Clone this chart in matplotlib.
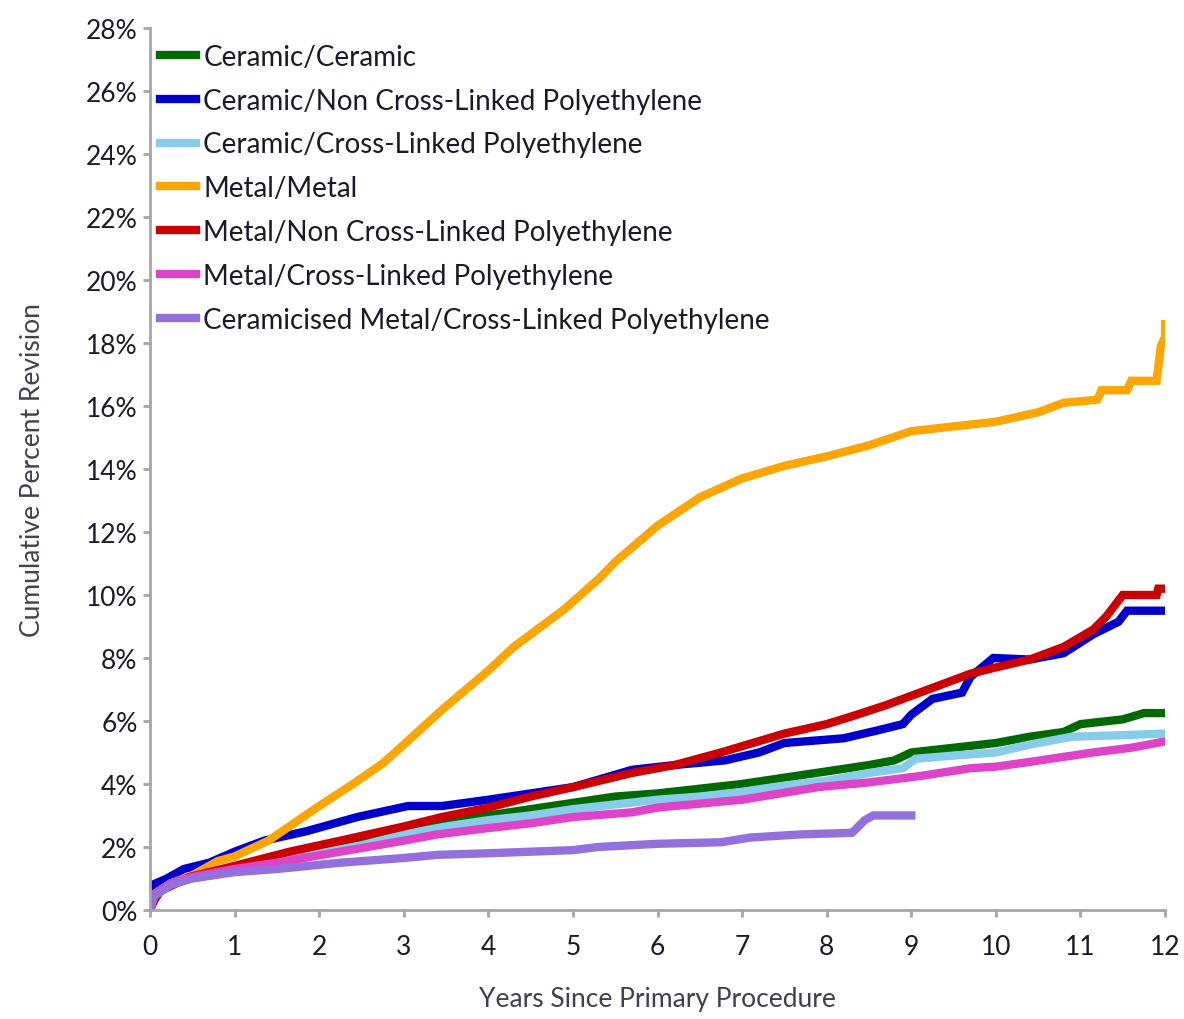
import matplotlib
matplotlib.use("Agg")
import matplotlib.pyplot as plt
from matplotlib.ticker import FuncFormatter, MultipleLocator

plt.rcParams['font.family'] = ['Lato', 'DejaVu Sans']

# Cumulative percent revision by bearing surface (years, percent)
cc_years = [0, 0.05, 0.25, 0.5, 1.0, 1.5, 2.0, 2.5, 3.0, 3.5, 4.0, 4.5, 5.0, 5.5, 6.0,
            6.5, 7.0, 7.5, 8.0, 8.5, 8.8, 9.0, 9.5, 10.0, 10.4, 10.8, 11.0, 11.5, 11.75, 12.0]
cc_pct = [0, 0.5, 0.85, 1.05, 1.35, 1.6, 1.9, 2.2, 2.5, 2.75, 3.0, 3.2, 3.4, 3.6, 3.7,
          3.85, 4.0, 4.2, 4.4, 4.6, 4.75, 5.0, 5.15, 5.3, 5.5, 5.65, 5.9, 6.05, 6.25, 6.25]

cnx_years = [0, 0.03, 0.2, 0.4, 0.7, 1.0, 1.35, 1.85, 2.45, 3.05, 3.45, 4.0, 4.5, 5.0, 5.7,
             6.2, 6.8, 7.2, 7.5, 8.2, 8.6, 8.9, 9.0, 9.25, 9.6, 9.7, 9.97, 10.4, 10.8,
             11.15, 11.45, 11.55, 12.0]
cnx_pct = [0, 0.8, 1.0, 1.3, 1.5, 1.85, 2.2, 2.5, 2.95, 3.3, 3.3, 3.5, 3.7, 3.9, 4.45,
           4.6, 4.75, 5.0, 5.3, 5.45, 5.7, 5.9, 6.2, 6.7, 6.9, 7.4, 8.0, 7.95, 8.15,
           8.75, 9.15, 9.5, 9.5]

cx_years = [0, 0.05, 0.25, 0.5, 1.0, 1.5, 2.0, 2.5, 3.0, 3.5, 4.0, 4.5, 5.0, 5.5, 6.0,
            6.5, 7.0, 7.5, 8.0, 8.5, 8.9, 9.05, 9.5, 10.0, 10.4, 10.9, 11.5, 12.0]
cx_pct = [0, 0.5, 0.85, 1.05, 1.3, 1.55, 1.8, 2.05, 2.4, 2.65, 2.85, 3.0, 3.2, 3.35, 3.5,
          3.6, 3.75, 3.95, 4.1, 4.35, 4.5, 4.8, 4.9, 5.0, 5.25, 5.5, 5.55, 5.6]

mm_years = [0, 0.05, 0.25, 0.5, 0.8, 1.0, 1.4, 2.0, 2.4, 2.75, 3.0, 3.45, 4.0, 4.3, 4.9,
            5.3, 5.5, 6.0, 6.5, 7.0, 7.5, 8.0, 8.5, 9.0, 9.5, 10.0, 10.5, 10.8, 11.2,
            11.25, 11.55, 11.6, 11.9, 11.95, 12.0, 12.0]
mm_pct = [0, 0.5, 0.85, 1.1, 1.55, 1.7, 2.2, 3.3, 4.0, 4.65, 5.25, 6.35, 7.6, 8.35, 9.55,
          10.5, 11.05, 12.2, 13.1, 13.7, 14.1, 14.4, 14.75, 15.2, 15.35, 15.5, 15.8, 16.1, 16.2,
          16.5, 16.5, 16.8, 16.8, 17.9, 18.2, 18.6]

mnx_years = [0, 0.05, 0.12, 0.47, 1.0, 1.65, 2.25, 3.0, 3.45, 4.0, 4.5, 5.0, 5.7, 6.2, 6.75,
             7.0, 7.5, 8.0, 8.3, 8.7, 9.1, 9.4, 9.7, 10.0, 10.4, 10.8, 11.15, 11.3, 11.5,
             11.9, 11.92, 12.0]
mnx_pct = [0, 0.3, 0.6, 1.05, 1.4, 1.85, 2.2, 2.65, 2.95, 3.25, 3.6, 3.9, 4.35, 4.6, 5.0,
           5.2, 5.6, 5.9, 6.15, 6.5, 6.9, 7.2, 7.5, 7.7, 7.95, 8.35, 8.9, 9.3, 10.0,
           10.0, 10.2, 10.2]

mx_years = [0, 0.05, 0.25, 0.5, 1.0, 1.5, 2.25, 3.0, 3.4, 4.0, 4.5, 5.0, 5.7, 6.0, 6.8,
            7.0, 7.9, 8.5, 9.1, 9.7, 10.0, 10.4, 11.15, 11.6, 12.0]
mx_pct = [0, 0.5, 0.85, 1.05, 1.3, 1.5, 1.85, 2.2, 2.4, 2.6, 2.75, 2.95, 3.1, 3.25, 3.45,
          3.5, 3.9, 4.05, 4.25, 4.5, 4.55, 4.7, 5.0, 5.15, 5.35]

cmx_years = [0, 0.05, 0.25, 0.5, 1.0, 1.5, 2.25, 3.0, 3.4, 4.0, 4.5, 5.0, 5.3, 6.0, 6.75,
             7.1, 7.7, 8.3, 8.45, 8.55, 9.0]
cmx_pct = [0, 0.45, 0.8, 1.0, 1.2, 1.3, 1.5, 1.65, 1.75, 1.8, 1.85, 1.9, 2.0, 2.1, 2.15,
           2.3, 2.4, 2.45, 2.85, 3.0, 3.0]

labels = ["Ceramic/Ceramic",
          "Ceramic/Non Cross-Linked Polyethylene",
          "Ceramic/Cross-Linked Polyethylene",
          "Metal/Metal",
          "Metal/Non Cross-Linked Polyethylene",
          "Metal/Cross-Linked Polyethylene",
          "Ceramicised Metal/Cross-Linked Polyethylene"]
colors = ["#006a00", "#0000cc", "#87cdea", "#ffa500", "#cc0000", "#dd44c8", "#9370db"]

series = [(cc_years, cc_pct), (cnx_years, cnx_pct), (cx_years, cx_pct),
          (mm_years, mm_pct), (mnx_years, mnx_pct), (mx_years, mx_pct),
          (cmx_years, cmx_pct)]

fig = plt.figure(figsize=(11.84, 10.2), dpi=100)
ax = fig.add_axes([0.1267, 0.1069, 0.8573, 0.8647])

for (xs, ys), lab, col in zip(series, labels, colors):
    ax.plot(xs, ys, color=col, linewidth=6, label=lab, solid_joinstyle='miter')

ax.set_xlim(0, 12)
ax.set_ylim(0, 28)
ax.xaxis.set_major_locator(MultipleLocator(1))
ax.yaxis.set_major_locator(MultipleLocator(2))
ax.yaxis.set_major_formatter(FuncFormatter(lambda v, p: f"{v:.0f}%"))

for side in ("top", "right"):
    ax.spines[side].set_visible(False)
for side in ("left", "bottom"):
    ax.spines[side].set_color("#a6a6a6")
    ax.spines[side].set_linewidth(2)

ax.tick_params(axis="both", direction="out", color="#a6a6a6", width=2, length=5,
               labelsize=19, labelcolor="#1a1a2a")
ax.tick_params(axis="x", pad=12)
ax.tick_params(axis="y", pad=4)

ax.set_xlabel("Years Since Primary Procedure", fontsize=19, color="#404050", labelpad=20)
ax.set_ylabel("Cumulative Percent Revision", fontsize=19, color="#404050", labelpad=29)

leg = ax.legend(loc="upper left", bbox_to_anchor=(0.01, 0.982), frameon=False,
                fontsize=20, handlelength=1.3, handletextpad=0.25, labelspacing=0.64,
                borderpad=0, borderaxespad=0)
for line in leg.get_lines():
    line.set_linewidth(6)
for txt in leg.get_texts():
    txt.set_color("#1a1a2a")

fig.savefig("out.png", dpi=100)
